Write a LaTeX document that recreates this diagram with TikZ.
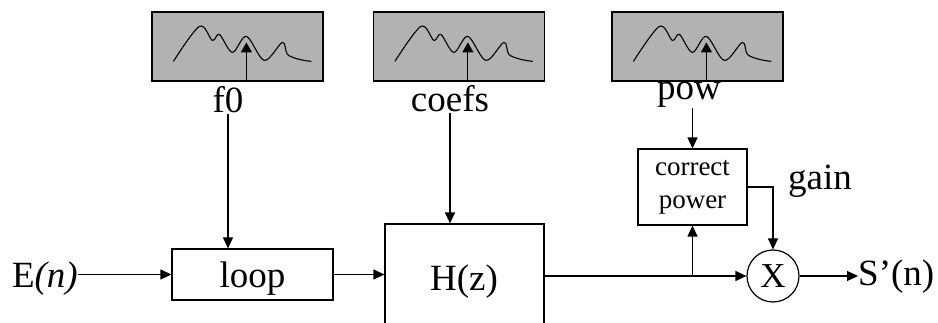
\documentclass[tikz,border=0pt]{standalone}
\usepackage{fontspec}
\setmainfont{Liberation Serif}
\usetikzlibrary{arrows.meta}
\definecolor{specgray}{RGB}{178,178,178}
\begin{document}
\begin{tikzpicture}[x=1pt,y=-1pt,
  lw/.style={line width=1.2pt},
  arr/.style={lw,-{Triangle[length=11pt,width=10pt]}},
  specbox/.style={draw,lw,fill=specgray,minimum width=171pt,minimum height=69pt,inner sep=0pt},
  blk/.style={draw,lw,inner sep=0pt},
  lbl/.style={inner sep=0pt,font=\fontsize{37}{40}\selectfont},
  small/.style={inner sep=0pt,align=center,font=\fontsize{27}{33}\selectfont},
  specwave/.pic={
    \draw[line width=1.1pt] plot[smooth,tension=0.55] coordinates
      {(22,50) (48,15) (61,29) (68,23) (81,41) (95,25) (113,49) (131,31) (136,43) (148,48) (160,50)};
    \draw[line width=1.1pt,-{Triangle[length=10pt,width=11pt]}] (95,69) -- (95,31);
  }]
\useasboundingbox (0,0) rectangle (938,323);
\clip (0,0) rectangle (938,323);

% spectral envelopes feeding the parameters
\node[specbox] (spf) at (237.5,46.5) {};
\node[specbox] (spc) at (459,46.5) {};
\node[specbox] (spp) at (697.5,46.5) {};
\pic at (spf.north west) {specwave};
\pic at (spc.north west) {specwave};
\pic at (spp.north west) {specwave};

\node[lbl,anchor=base] (f0) at (228,113) {f0};
\node[lbl,anchor=base] (coefs) at (450,112) {coefs};
\node[lbl,anchor=base] (pow) at (689,100) {pow};

% processing blocks
\node[blk,minimum width=161pt,minimum height=51pt] (loop) at (252.5,274.5) {};
\node[lbl,anchor=base] (looptxt) at (252.5,288) {loop};
\node[blk,minimum width=159pt,minimum height=120pt] (H) at (464.5,284) {};
\node[lbl,anchor=base] (Htxt) at (464,291) {H(z)};
\node[blk,small,minimum width=109pt,minimum height=76pt] (corr) at (692.5,187) {correct\\power};
\node[blk,circle,minimum size=52pt,font=\fontsize{35}{40}\selectfont] (mul) at (773,276) {X};

\node[lbl,anchor=base east] (E) at (78,288) {E\textit{(n)}};
\node[lbl,anchor=base west] (S) at (858,286) {S’(n)};
\node[lbl,anchor=base west] (gain) at (788,190) {gain};

% signal path
\draw[arr] (loop.west -| E.east) -- (loop.west);
\draw[arr] (loop.east) -- (loop.east -| H.west);
\draw[arr] (H.east |- mul.west) -- (mul.west);
\coordinate (br) at (corr.south |- mul.west);
\draw[arr] (br) -- (corr.south);
\draw[arr] (corr.east) -| (mul.north);
\draw[arr] (mul.east) -- (S.west |- mul.east);

% parameter inputs
\draw[arr] (f0.south) -- (f0.south |- loop.north);
\draw[arr] (coefs.south) -- (coefs.south |- H.north);
\draw[arr] (pow.south -| corr.north) -- (corr.north);
\end{tikzpicture}
\end{document}
